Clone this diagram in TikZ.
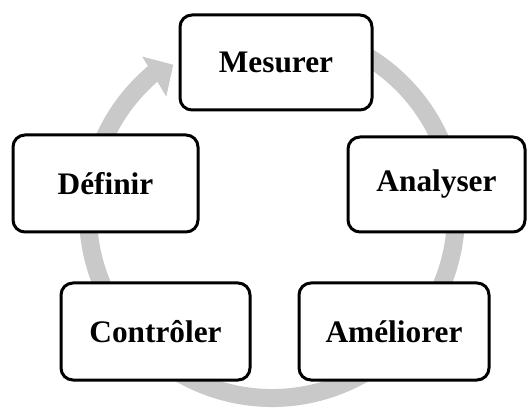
\documentclass[tikz,border=0pt]{standalone}
\usepackage{fontspec}
\setmainfont{Liberation Serif}
\usetikzlibrary{calc}

\definecolor{cyclegrey}{RGB}{201,201,201}

\tikzset{
  stage/.style={draw=black, fill=white, line width=2.25pt, rounded corners=9pt,
    inner sep=0pt, align=center,
    font=\fontsize{23.5}{28}\selectfont\bfseries},
}

\begin{document}
\begin{tikzpicture}[x=0.75pt, y=0.75pt]
  \useasboundingbox (0,0) rectangle (527,410);

  % centre of the circular cycle arrow
  \coordinate (c) at (272,196);

  % grey ring running clockwise, ending in a broad arrowhead
  \draw[cyclegrey, line width=13.5pt]
    ($(c)+(75:184)$) arc[start angle=75, end angle=-230, radius=184];
  \fill[cyclegrey]
    ($(c)+(129.5:204)$) -- ($(c)+(123.5:179)$) -- ($(c)+(132:158)$) -- cycle;

  % the five stages
  \node[stage, minimum width=144pt, minimum height=71.25pt] (mes) at (276,347.5) {Mesurer};
  \node[stage, minimum width=138.75pt, minimum height=72.75pt] (def) at (105.5,226.5) {Définir};
  \node[stage, minimum width=132.75pt, minimum height=71.25pt] (ana) at (436.5,225.5) {Analyser};
  \node[stage, minimum width=141.75pt, minimum height=72.75pt] (con) at (155.5,78.5) {Contrôler};
  \node[stage, minimum width=142.5pt, minimum height=72.75pt] (ame) at (394,78.5) {Améliorer};
\end{tikzpicture}
\end{document}
